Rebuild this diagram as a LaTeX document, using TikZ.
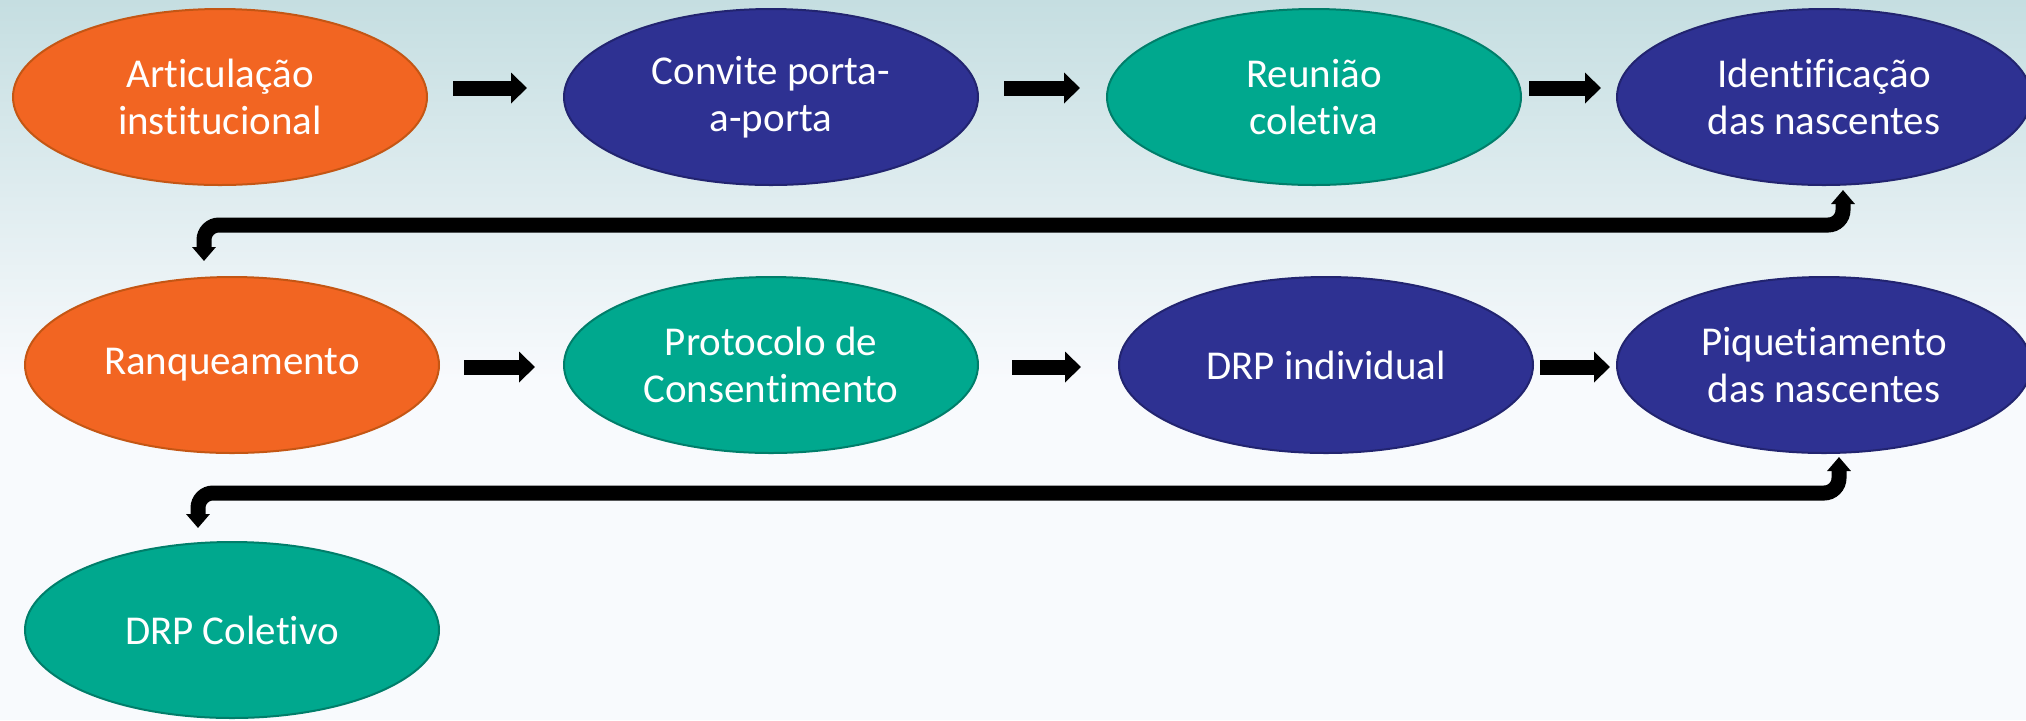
\documentclass[tikz,border=0pt]{standalone}
\usepackage{fontspec}
\setmainfont{Carlito}[RawFeature=-liga]
\usetikzlibrary{shapes.geometric,arrows.meta}
\definecolor{bgtop}{RGB}{197,222,225}
\definecolor{bgbot}{RGB}{248,250,253}
\definecolor{orfill}{RGB}{242,101,34}
\definecolor{ordraw}{RGB}{196,86,20}
\definecolor{blfill}{RGB}{46,49,146}
\definecolor{bldraw}{RGB}{34,36,112}
\definecolor{grfill}{RGB}{0,168,142}
\definecolor{grdraw}{RGB}{0,126,106}
\tikzset{
  stage/.style={ellipse, minimum width=207pt, minimum height=88pt, inner sep=0pt,
    line width=1pt, text=white, align=center,
    font=\fontsize{20.5pt}{23.5pt}\selectfont},
  orst/.style={stage, fill=orfill, draw=ordraw},
  blst/.style={stage, fill=blfill, draw=bldraw},
  grst/.style={stage, fill=grfill, draw=grdraw},
  blockarrow/.style={line width=7.5pt, -{Triangle[length=8pt,width=15pt]}},
  elbow/.style={line width=7.5pt, rounded corners=7.5pt,
    {Triangle[length=7pt,width=11.5pt]}-{Triangle[length=7pt,width=11.5pt]}}
}
\begin{document}
\begin{tikzpicture}[x=0.5pt,y=-0.5pt]
\useasboundingbox (0,0) rectangle (2026,720);
\shade[top color=bgtop, bottom color=bgbot] (0,0) rectangle (2026,380);
\fill[bgbot] (0,379) rectangle (2026,720);

\node[orst] (art) at (220,97) {Articulação\\institucional};
\node[blst] (con) at (771,97) {Convite porta-\\a-porta};
\node[grst] (reu) at (1314,97) {Reunião\\coletiva};
\node[blst] (ide) at (1824,97) {Identificação\\das nascentes};

\node[orst] (ran) at (232,365) {Ranqueamento};
\node[grst] (pro) at (771,365) {Protocolo de\\Consentimento};
\node[blst] (drp) at (1326,365) {DRP individual};
\node[blst] (piq) at (1824,365) {Piquetiamento\\das nascentes};

\node[grst] (col) at (232,630) {DRP Coletivo};

\draw[blockarrow, shorten <=12.5pt, shorten >=18pt] ([yshift=4.5pt]art.east) -- ([yshift=4.5pt]con.west);
\draw[blockarrow, shorten <=12.5pt, shorten >=13pt] ([yshift=4.5pt]con.east) -- ([yshift=4.5pt]reu.west);
\draw[blockarrow, shorten <=3.5pt, shorten >=7.5pt] ([yshift=4.5pt]reu.east) -- ([yshift=4.5pt]ide.west);

\draw[blockarrow, shorten <=12pt, shorten >=14pt] ([yshift=-1pt]ran.east) -- ([yshift=-1pt]pro.west);
\draw[blockarrow, shorten <=16.5pt, shorten >=18.5pt] ([yshift=-1pt]pro.east) -- ([yshift=-1pt]drp.west);
\draw[blockarrow, shorten <=3pt, shorten >=3pt] ([yshift=-1pt]drp.east) -- ([yshift=-1pt]piq.west);

\coordinate (e1a) at (1843,190);
\coordinate (e1b) at (204,261);
\draw[elbow] (e1a) -- (1843,225) -- (204,225) -- (e1b);

\coordinate (e2a) at (1839,457);
\coordinate (e2b) at (198,528);
\draw[elbow] (e2a) -- (1839,493) -- (198,493) -- (e2b);
\end{tikzpicture}
\end{document}
